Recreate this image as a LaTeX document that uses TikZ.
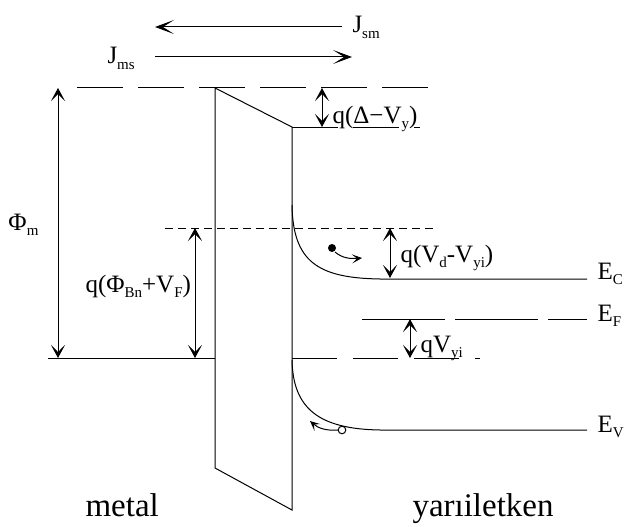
\documentclass[tikz,border=0pt]{standalone}
\usepackage{fontspec}
\setmainfont{Liberation Serif}
\usetikzlibrary{arrows.meta}
\newcommand{\subx}[1]{\raisebox{-0.5ex}{\fontsize{15}{15}\selectfont #1}}

\begin{document}
\begin{tikzpicture}[
      x=1pt, y=-1pt,
      line width=1pt,
      % 準位線のスタイル
      level/.style={draw, dash pattern=on 46pt off 15pt},
      fermi/.style={draw, dash pattern=on 45pt off 16pt},
      thin dash/.style={draw, dash pattern=on 8pt off 5pt},
      % 矢印のスタイル
      flow/.style={draw, -{Stealth[length=19pt, width=14pt, inset=11pt]}},
      line/.style={draw, -{Stealth[length=10pt, width=9pt, inset=5pt]}},
      gap/.style={draw, {Stealth[length=13pt, width=14pt, inset=7pt]}-{Stealth[length=13pt, width=14pt, inset=7pt]}},
      % ラベルのスタイル
      lbl/.style={anchor=base west, inner sep=0pt, font=\fontsize{25}{28}\selectfont},
      side/.style={anchor=base west, inner sep=0pt, font=\fontsize{33}{38}\selectfont}
    ]
    \useasboundingbox (0,0) rectangle (624,527);

    % --- 座標 ---
    \coordinate (vac0) at (77,88);   \coordinate (vac1) at (430,88);
    \coordinate (bTL) at (215,88);   \coordinate (bTR) at (292,127);
    \coordinate (bBR) at (292,510);  \coordinate (bBL) at (215,468);
    \coordinate (cb1) at (420,127);
    \coordinate (fm0) at (48,358);   \coordinate (fm1) at (480,358);
    \coordinate (bar0) at (165,228); \coordinate (bar1) at (435,228);
    \coordinate (ec0) at (292,205);  \coordinate (ec1) at (380,279);  \coordinate (ec2) at (587,279);
    \coordinate (ef0) at (362,319);  \coordinate (ef1) at (587,319);
    \coordinate (ev0) at (292,360);  \coordinate (ev1) at (380,430);  \coordinate (ev2) at (587,430);

    % --- 電流 ---
    \coordinate (jsmR) at (342,27); \coordinate (jsmL) at (155,27);
    \coordinate (jmsL) at (155,57); \coordinate (jmsR) at (352,57);
    \draw [flow] (jsmR) -- (jsmL);
    \draw [flow] (jmsL) -- (jmsR);
    \node [lbl] (jsm) at (352,33) {J\subx{sm}};
    \node [lbl] (jms) at (107,64) {J\subx{ms}};

    % --- 障壁と準位 ---
    \draw (bTL) -- (bTR) -- (bBR) -- (bBL) -- cycle;
    \draw [level] (vac0) -- (vac1);
    \draw [level] (bTR) -- (cb1);
    \draw (fm0) -- (bTL |- fm0);
    \draw [fermi] (bTR |- fm0) -- (fm1);
    \draw [thin dash] (bar0) -- (bar1);
    \draw (ec0) .. controls (293,262) and (318,278) .. (ec1) -- (ec2);
    \draw [dash pattern=on 83pt off 10pt] (ef0) -- (ef1);
    \draw (ev0) .. controls (293,408) and (318,429) .. (ev1) -- (ev2);

    % --- 寸法矢印 ---
    \draw [gap] (58,88) -- (58,358);
    \draw [gap] (195,228) -- (195,358);
    \draw [gap] (322,88) -- (322,127);
    \draw [gap] (390,228) -- (390,278);
    \draw [gap] (410,319) -- (410,358);

    % --- 電子と正孔 ---
    \fill (332,248) circle (4);
    \draw [line] (335,252) .. controls (342,258) and (350,259) .. (362,258);
    \draw (342,430) circle (3.8);
    \draw [line] (338,430) .. controls (326,431) and (318,428) .. (310,421);

    % --- ラベル ---
    \node [lbl] (phim) at (8,230) {Φ\subx{m}};
    \node [lbl] (phibn) at (85,292) {q(Φ\subx{Bn}+V\subx{F})};
    \node [lbl] (delta) at (332,123) {q(Δ−V\subx{y})};
    \node [lbl] (vd) at (400,262) {q(V\subx{d}-V\subx{yi})};
    \node [lbl] (vyi) at (420,352) {qV\subx{yi}};
    \node [lbl] (ec) at (597,279) {E\subx{C}};
    \node [lbl] (ef) at (597,321) {E\subx{F}};
    \node [lbl] (ev) at (597,432) {E\subx{V}};
    \node [side] (metal) at (85,516) {metal};
    \node [side] (semi) at (412,516) {yarıiletken};

    \end{tikzpicture}
\end{document}
